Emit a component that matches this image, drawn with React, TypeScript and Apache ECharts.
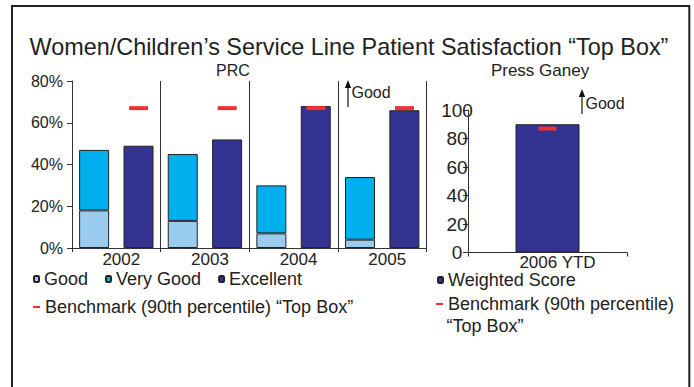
import React, { useEffect, useRef } from 'react';
import * as echarts from 'echarts';

// ---- data ----
const prcYears = ['2002', '2003', '2004', '2005'];
const goodPct = [18, 13, 7, 4];
const veryGoodPct = [29, 32, 23, 30];
const excellentPct = [49, 52, 68, 66];
const prcBenchmark = [67, 67, 67, 67];
const pgCategories = ['2006 YTD'];
const weightedScore = [90];
const pgBenchmark = [87];

const TITLE = 'Women/Children’s Service Line Patient Satisfaction “Top Box”';
const BENCH_NAME = 'Benchmark (90th percentile) “Top Box”';

const INK = '#222';
const RED = '#EE3135';
const C_GOOD = '#99CCEE';
const C_VGOOD = '#00B0EE';
const C_EXC = '#333391';
const FONT = 'Liberation Sans';

export default function App() {
  const ref = useRef<HTMLDivElement>(null);
  useEffect(() => {
    if (!ref.current) return;
    const chart = echarts.init(ref.current, undefined, { renderer: 'svg' });
    const barStyle = (c: string) => ({ color: c, borderColor: INK, borderWidth: 1 });
    const option: any = {
      animation: false,
      textStyle: { fontFamily: FONT, color: INK },
      title: [
        { text: TITLE, left: 349, top: 33, textAlign: 'center', padding: 0,
          textStyle: { fontSize: 23.4, fontWeight: 'normal', color: INK, lineHeight: 28, fontFamily: FONT } },
        { text: 'PRC', left: 233, top: 61, textAlign: 'center', padding: 0,
          textStyle: { fontSize: 16, fontWeight: 'normal', color: INK, lineHeight: 18, fontFamily: FONT } },
        { text: 'Press Ganey', left: 540, top: 60.5, textAlign: 'center', padding: 0,
          textStyle: { fontSize: 17, fontWeight: 'normal', color: INK, lineHeight: 19, fontFamily: FONT } },
      ],
      legend: [
        { left: 33, top: 269, padding: 0, itemWidth: 5, itemHeight: 6, itemGap: 17,
          data: ['Good', 'Very Good', 'Excellent'],
          textStyle: { fontSize: 18, lineHeight: 20, color: INK, fontFamily: FONT } },
        { left: 33, top: 297, padding: 0, itemWidth: 7, itemHeight: 2,
          data: [{ name: BENCH_NAME, icon: 'rect', itemStyle: { color: RED, borderWidth: 0 } }],
          textStyle: { fontSize: 18, lineHeight: 20, color: INK, fontFamily: FONT } },
        { left: 437, top: 270, padding: 0, itemWidth: 5, itemHeight: 6,
          data: ['Weighted Score'],
          textStyle: { fontSize: 18, lineHeight: 20, color: INK, fontFamily: FONT } },
        { left: 436, top: 294, padding: 0, itemWidth: 7, itemHeight: 2,
          data: [{ name: BENCH_NAME, icon: 'rect', itemStyle: { color: RED, borderWidth: 0 } }],
          formatter: () => 'Benchmark (90th percentile)',
          textStyle: { fontSize: 18, lineHeight: 20, color: INK, fontFamily: FONT } },
      ],
      grid: [
        { left: 72, right: 267.5, top: 81, bottom: 139 },
        { left: 468, right: 67, top: 110, bottom: 134.5 },
      ],
      xAxis: [
        { type: 'category', gridIndex: 0, data: prcYears,
          axisLine: { lineStyle: { color: '#333', width: 1 } },
          axisTick: { show: true, length: 4, lineStyle: { color: '#333' } },
          splitLine: { show: true, lineStyle: { color: '#333', width: 1 } },
          axisLabel: { fontSize: 17, margin: 3, color: INK, padding: [0, 0, 0, 10], fontFamily: FONT } },
        { type: 'category', gridIndex: 1, data: pgCategories,
          axisLine: { lineStyle: { color: '#333', width: 1 } },
          axisTick: { show: true, length: 4, lineStyle: { color: '#333' } },
          axisLabel: { fontSize: 17, margin: 1, color: INK, padding: [0, 0, 0, 20], fontFamily: FONT } },
      ],
      yAxis: [
        { type: 'value', gridIndex: 0, min: 0, max: 80, interval: 20,
          axisLine: { show: true, lineStyle: { color: '#333', width: 1 } },
          axisTick: { show: true, length: 5, lineStyle: { color: '#333' } },
          splitLine: { show: false },
          axisLabel: { formatter: '{value}%', fontSize: 16, margin: 9, color: INK, fontFamily: FONT } },
        { type: 'value', gridIndex: 1, min: 0, max: 100, interval: 20,
          axisLine: { show: true, lineStyle: { color: '#333', width: 1 } },
          axisTick: { show: true, length: 5, lineStyle: { color: '#333' } },
          splitLine: { show: false },
          axisLabel: { fontSize: 19, margin: 11, align: 'center', color: INK, fontFamily: FONT } },
      ],
      series: [
        { name: 'Good', type: 'bar', stack: 'prc', xAxisIndex: 0, yAxisIndex: 0, data: goodPct,
          barWidth: 30, barGap: '48%', itemStyle: barStyle(C_GOOD) },
        { name: 'Very Good', type: 'bar', stack: 'prc', xAxisIndex: 0, yAxisIndex: 0, data: veryGoodPct,
          barWidth: 30, barGap: '48%', itemStyle: barStyle(C_VGOOD) },
        { name: 'Excellent', type: 'bar', xAxisIndex: 0, yAxisIndex: 0, data: excellentPct,
          barWidth: 30, barGap: '48%', itemStyle: barStyle(C_EXC) },
        { name: BENCH_NAME, type: 'custom', xAxisIndex: 0, yAxisIndex: 0, z: 5,
          itemStyle: { color: RED },
          data: prcBenchmark.map((v, i) => [i, v]),
          renderItem: (_p: any, api: any) => {
            const pt = api.coord([api.value(0), api.value(1)]);
            const cw = api.size([1, 0])[0];
            const off = cw * 0.2514;
            return { type: 'rect', shape: { x: pt[0] + off - 9.5, y: pt[1] - 2, width: 19, height: 4 },
              style: { fill: RED } };
          } },
        { name: 'Weighted Score', type: 'bar', xAxisIndex: 1, yAxisIndex: 1, data: weightedScore,
          barWidth: 64, itemStyle: barStyle(C_EXC) },
        { name: BENCH_NAME, type: 'custom', xAxisIndex: 1, yAxisIndex: 1, z: 5,
          itemStyle: { color: RED },
          data: pgBenchmark.map((v, i) => [i, v]),
          renderItem: (_p: any, api: any) => {
            const pt = api.coord([api.value(0), api.value(1)]);
            return { type: 'rect', shape: { x: pt[0] - 9, y: pt[1] - 2, width: 18, height: 4 },
              style: { fill: RED } };
          } },
      ],
      graphic: [
        { type: 'rect', z: -1, shape: { x: 12, y: 6, width: 677.3, height: 420 },
          style: { fill: 'none', stroke: INK, lineWidth: 2 } },
        { type: 'line', shape: { x1: 348, y1: 86, x2: 348, y2: 107 }, style: { stroke: '#111', lineWidth: 1.2 } },
        { type: 'polygon', shape: { points: [[344.8, 88], [348, 80], [351.2, 88]] }, style: { fill: '#111' } },
        { type: 'text', style: { text: 'Good', x: 351.5, y: 92, fontSize: 16, fontFamily: FONT, fill: INK, verticalAlign: 'middle' } },
        { type: 'line', shape: { x1: 582, y1: 95, x2: 582, y2: 114 }, style: { stroke: '#111', lineWidth: 1.2 } },
        { type: 'polygon', shape: { points: [[578.8, 97], [582, 89], [585.2, 97]] }, style: { fill: '#111' } },
        { type: 'text', style: { text: 'Good', x: 585.5, y: 103, fontSize: 16, fontFamily: FONT, fill: INK, verticalAlign: 'middle' } },
        { type: 'text', style: { text: '“Top Box”', x: 446.5, y: 325.5, fontSize: 18, fontFamily: FONT, fill: INK, verticalAlign: 'middle' } },
      ],
    };
    chart.setOption(option);
    return () => chart.dispose();
  }, []);
  return (
    <div ref={ref} style={{ position: 'fixed', left: 0, top: 0, width: 694, height: 387, background: '#fff' }} />
  );
}
